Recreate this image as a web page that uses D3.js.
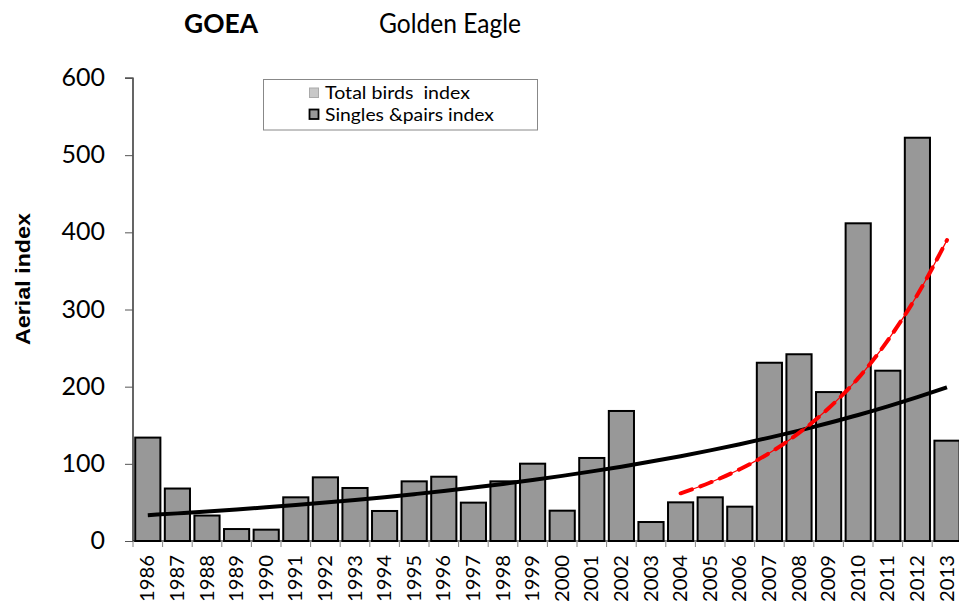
<!DOCTYPE html>
<html>
<head>
<meta charset="utf-8">
<script src="https://cdn.jsdelivr.net/npm/d3@7"></script>
<style>
  html, body { margin: 0; padding: 0; background: #fff; overflow: hidden; }
  svg { display: block; font-family: Lato, "Open Sans", sans-serif; }
</style>
</head>
<body>
<svg id="chart" width="959" height="602"></svg>
<script>
// Golden Eagle aerial survey index, 1986-2013
const years = d3.range(1986, 2014).map(String);
const singlesPairs = [134, 68, 33, 15.5, 14.7, 56.6, 82.5, 68.7, 38.9, 77.3, 83.3, 49.7, 77.3, 100.2,
                      39.3, 107.6, 168.5, 24.6, 50.1, 56.6, 44.5, 231, 242, 193, 411.7, 220.7, 522.6, 130];
// long-term exponential trend (black) and recent trend 2004-2013 (red)
const longTrend = [33.5, 35.8, 38.2, 40.8, 43.6, 46.6, 49.8, 53.2, 56.8, 60.7, 64.8, 69.3, 74.0, 79.0,
                   84.4, 90.2, 96.3, 102.9, 109.9, 117.4, 125.4, 134.0, 143.1, 152.9, 163.3, 174.5, 186.4, 199.1];
const recentYears = d3.range(2004, 2014).map(String);
const recentTrend = [61.8, 75.8, 93, 114, 140, 172, 211, 260, 319, 390];
const yTicks = [0, 100, 200, 300, 400, 500, 600];
const legendLabels = ["Total birds  index", "Singles &pairs index"];

const svg = d3.select("#chart");

const x = d3.scaleBand().domain(years).range([133, 133 + 28 * 29.6])
  .paddingInner(0.15).paddingOuter(0.075);
const y = d3.scaleLinear().domain([0, 600]).range([541, 78]);

// bars
svg.append("g").selectAll("rect").data(years).join("rect")
  .attr("x", d => x(d))
  .attr("y", (d, i) => y(singlesPairs[i]))
  .attr("width", x.bandwidth())
  .attr("height", (d, i) => y(0) - y(singlesPairs[i]))
  .attr("fill", "#989898")
  .attr("stroke", "#000")
  .attr("stroke-width", 2);

// x axis: baseline, category separators, rotated year labels
const xg = svg.append("g");
xg.append("line").attr("x1", 133).attr("x2", 959).attr("y1", y(0)).attr("y2", y(0))
  .attr("stroke", "#000").attr("stroke-width", 1.2);
const gap = (x.step() - x.bandwidth()) / 2;
xg.selectAll("line.sep").data(years).join("line").attr("class", "sep")
  .attr("x1", d => x(d) - gap).attr("x2", d => x(d) - gap)
  .attr("y1", y(0)).attr("y2", y(0) + 6)
  .attr("stroke", "#888").attr("stroke-width", 1);
xg.selectAll("text").data(years).join("text")
  .attr("transform", d => `translate(${x(d) + x.bandwidth() / 2 + 6.5},555) rotate(-90)`)
  .attr("text-anchor", "end")
  .attr("font-size", 19)
  .attr("textLength", 47).attr("lengthAdjust", "spacingAndGlyphs")
  .attr("fill", "#000")
  .text(d => d);

// y axis
const yAxis = d3.axisLeft(y).tickValues(yTicks).tickSize(8).tickPadding(20);
const yg = svg.append("g").attr("transform", "translate(133,0)").call(yAxis);
yg.select(".domain").attr("stroke", "#000").attr("stroke-width", 1.2).attr("d", `M-8,${y(600)}H0V${y(0)}`);
yg.selectAll(".tick line").attr("stroke", "#555");
yg.selectAll(".tick text")
  .attr("font-family", "Lato, sans-serif")
  .attr("font-size", 25)
  .attr("fill", "#000")
  .attr("dy", "0.3em");

// trend lines
const line = d3.line().curve(d3.curveMonotoneX);
svg.append("path")
  .attr("d", line(years.map((d, i) => [x(d) + x.bandwidth() / 2, y(longTrend[i])])))
  .attr("fill", "none").attr("stroke", "#000").attr("stroke-width", 4);
const redPts = recentYears.map((d, i) => [x(d) + x.bandwidth() / 2, y(recentTrend[i])]);
svg.append("path").attr("d", line(redPts))
  .attr("fill", "none").attr("stroke", "#f00").attr("stroke-width", 1.2);
svg.append("path").attr("d", line(redPts))
  .attr("fill", "none").attr("stroke", "#f00").attr("stroke-width", 4)
  .attr("stroke-linecap", "round").attr("stroke-dasharray", "12,9");

// legend
const lg = svg.append("g");
lg.append("rect").attr("x", 263.5).attr("y", 79.5).attr("width", 274).attr("height", 50.5)
  .attr("fill", "#fff").attr("stroke", "#888").attr("stroke-width", 1);
const legendFill = ["#c8c8c8", "#989898"];
const legendStroke = ["#aaa", "#000"];
const legendY = [88, 109.5];
legendLabels.forEach((lab, i) => {
  lg.append("rect").attr("x", 309.5).attr("y", legendY[i]).attr("width", 9).attr("height", 9.5)
    .attr("fill", legendFill[i]).attr("stroke", legendStroke[i]).attr("stroke-width", i ? 1.8 : 1);
  lg.append("text").attr("x", 325).attr("y", legendY[i] + 11)
    .attr("font-size", 17.5).attr("fill", "#000")
    .attr("textLength", i ? 169 : 145).attr("lengthAdjust", "spacingAndGlyphs")
    .style("white-space", "pre")
    .text(lab);
});

// titles
svg.append("text").attr("x", 184).attr("y", 33).attr("font-size", 27).attr("font-weight", "bold")
  .attr("textLength", 74).attr("lengthAdjust", "spacingAndGlyphs").text("GOEA");
svg.append("text").attr("x", 379).attr("y", 33).attr("font-size", 26)
  .attr("textLength", 142).attr("lengthAdjust", "spacingAndGlyphs").text("Golden Eagle");
svg.append("text").attr("transform", "translate(29.5,279) rotate(-90)")
  .attr("text-anchor", "middle").attr("font-family", "'Liberation Sans', Arial, sans-serif")
  .attr("font-size", 20).attr("font-weight", "bold")
  .attr("textLength", 132).attr("lengthAdjust", "spacingAndGlyphs").text("Aerial index");
</script>
</body>
</html>
